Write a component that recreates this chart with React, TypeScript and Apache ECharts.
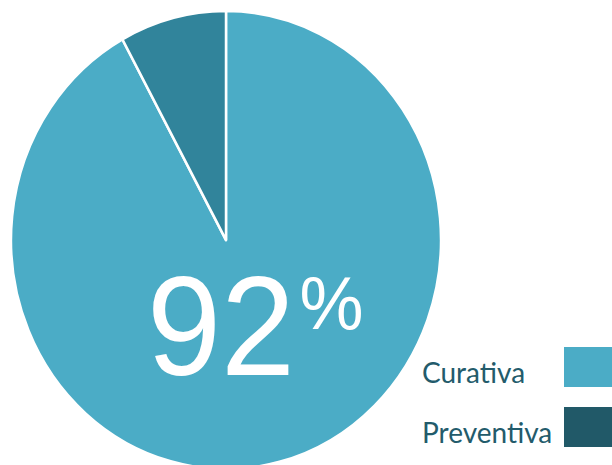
import React, { useEffect, useRef } from "react";
import * as echarts from "echarts";

const categories = ["Curativa", "Preventiva"];
const values = [92, 8];
const sliceColors = ["#4BACC6", "#31849B"];
const legendColors = ["#4BACC6", "#215968"];
const bigNumber = "92";
const bigUnit = "%";

export default function App() {
  const pieRef = useRef<HTMLDivElement>(null);
  const legRef = useRef<HTMLDivElement>(null);

  useEffect(() => {
    const pie = echarts.init(pieRef.current!, null, { renderer: "svg" });
    pie.setOption({
      animation: false,
      series: [
        {
          type: "pie",
          center: [226, 240],
          radius: 215,
          startAngle: 90,
          clockwise: true,
          label: { show: false },
          labelLine: { show: false },
          emphasis: { disabled: true },
          silent: true,
          itemStyle: { borderColor: "#ffffff", borderWidth: 2.5 },
          data: categories.map((c, i) => ({
            name: c,
            value: values[i],
            itemStyle: { color: sliceColors[i] },
          })),
        },
      ],
      graphic: [
        {
          type: "text",
          x: 147,
          y: 320.5,
          z: 100,
          style: {
            text: bigNumber,
            fill: "#ffffff",
            fontSize: 133,
            fontFamily: "Liberation Sans",
            verticalAlign: "middle",
            align: "left",
          },
          silent: true,
        },
        {
          type: "text",
          x: 299.5,
          y: 298.5,
          z: 100,
          style: {
            text: bigUnit,
            fill: "#ffffff",
            fontSize: 72,
            fontFamily: "Liberation Sans",
            verticalAlign: "middle",
            align: "left",
          },
          silent: true,
        },
      ],
    });

    const leg = echarts.init(legRef.current!, null, { renderer: "svg" });
    const tops = [347, 407];
    const els: any[] = [];
    categories.forEach((c, i) => {
      els.push({
        type: "rect",
        shape: { x: 564, y: tops[i], width: 48, height: 40 },
        style: { fill: legendColors[i] },
        silent: true,
      });
      els.push({
        type: "text",
        x: 422,
        y: tops[i] + 25,
        style: {
          text: c,
          fill: "#235B6B",
          fontSize: 28,
          fontFamily: "Lato",
          verticalAlign: "middle",
          align: "left",
        },
        silent: true,
      });
    });
    leg.setOption({ animation: false, graphic: els });

    return () => {
      pie.dispose();
      leg.dispose();
    };
  }, []);

  return (
    <div
      style={{
        position: "fixed",
        left: 0,
        top: 0,
        width: 612,
        height: 465,
        overflow: "hidden",
        background: "#ffffff",
      }}
    >
      <div
        ref={pieRef}
        style={{
          position: "absolute",
          left: 0,
          top: 0,
          width: 612,
          height: 465,
          transform: "scaleY(1.0654)",
          transformOrigin: "226px 240px",
        }}
      />
      <div
        ref={legRef}
        style={{ position: "absolute", left: 0, top: 0, width: 612, height: 465 }}
      />
    </div>
  );
}
